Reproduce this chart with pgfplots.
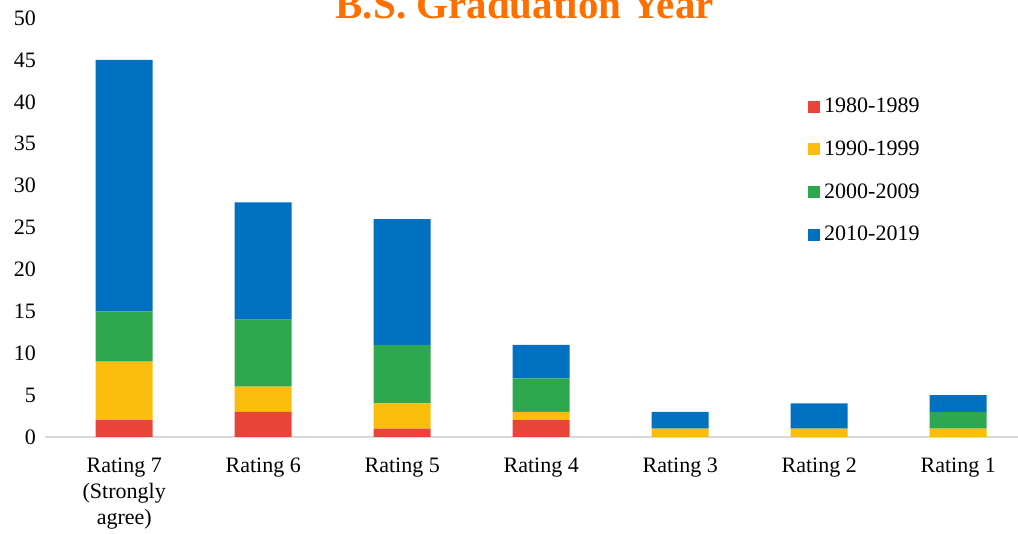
\documentclass[border=0pt]{standalone}
\usepackage{pgfplots}
\pgfplotsset{compat=1.18}
\usepackage{fontspec}
\setmainfont{Liberation Serif}

\definecolor{cRed}{HTML}{E9443A}
\definecolor{cYel}{HTML}{FBBD0B}
\definecolor{cGrn}{HTML}{2EA84F}
\definecolor{cBlu}{HTML}{0070C0}
\definecolor{cTitle}{HTML}{FF6F00}

\begin{document}
\begin{tikzpicture}
\begin{axis}[
    scale only axis,
    width=486.5pt, height=209.5pt,
    ybar stacked,
    bar width=28.5pt,
    xmin=-0.57, xmax=6.43,
    ymin=0, ymax=50,
    ytick={0,5,...,50},
    xtick=data,
    xticklabels={{Rating 7\\(Strongly\\agree)},Rating 6,Rating 5,Rating 4,Rating 3,Rating 2,Rating 1},
    xticklabel style={align=center, yshift=-7pt},
    major tick length=0pt,
    axis x line*=bottom,
    axis y line*=left,
    x axis line style={draw=black!15, line width=1.3pt, -},
    y axis line style={draw=none},
    ticklabel style={font=\fontsize{11}{13}\selectfont},
    yticklabel style={xshift=-1pt},
    /pgf/number format/assume math mode=true,
    every axis plot/.append style={draw=none},
    legend style={at={(0.784,0.82)}, anchor=north west, draw=none, fill=none,
        font=\fontsize{11}{13}\selectfont, row sep=8.6pt, inner sep=0pt},
    legend cell align=left,
    legend image code/.code={\fill[#1] (0pt,-3pt) rectangle (6pt,3pt);},
    clip=false,
]
\addplot[fill=cRed] coordinates {(0,2) (1,3) (2,1) (3,2) (4,0) (5,0) (6,0)};
\addplot[fill=cYel] coordinates {(0,7) (1,3) (2,3) (3,1) (4,1) (5,1) (6,1)};
\addplot[fill=cGrn] coordinates {(0,6) (1,8) (2,7) (3,4) (4,0) (5,0) (6,2)};
\addplot[fill=cBlu] coordinates {(0,30) (1,14) (2,15) (3,4) (4,2) (5,3) (6,2)};
\legend{1980-1989,1990-1999,2000-2009,2010-2019}
\coordinate (bl) at (rel axis cs:0,0);
\coordinate (tr) at (rel axis cs:1,1);
\node[anchor=base, text=cTitle, font=\fontsize{20.5}{24}\selectfont\bfseries]
    at (rel axis cs:0.493,1) [yshift=-0.5pt] {B.S. Graduation Year};
\end{axis}
\pgfresetboundingbox
\path[use as bounding box] ([shift={(-22.5pt,-48pt)}]bl) rectangle ([shift={(0pt,9pt)}]tr);
\end{tikzpicture}
\end{document}
